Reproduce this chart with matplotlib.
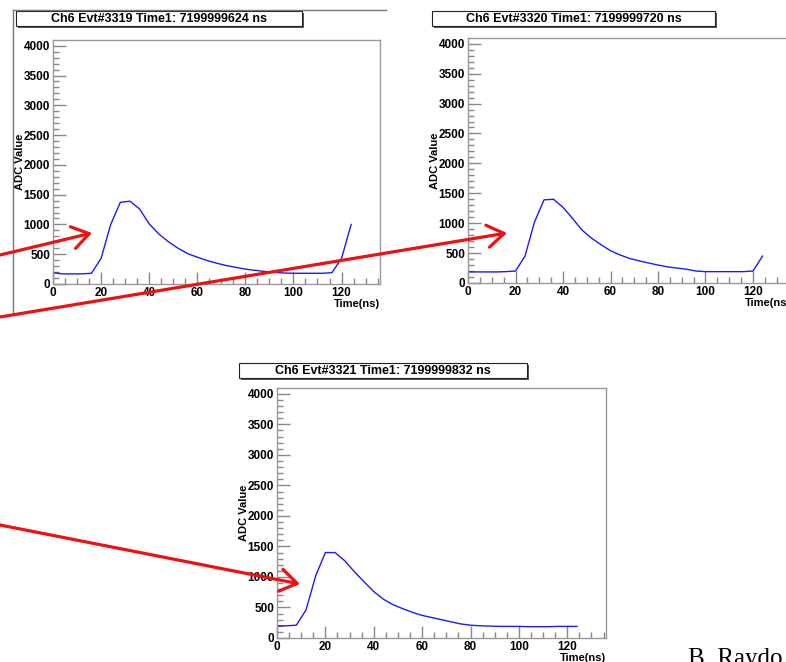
import matplotlib
matplotlib.use("Agg")
import matplotlib.pyplot as plt
from matplotlib.patches import Rectangle, FancyArrowPatch
from matplotlib.ticker import MultipleLocator

# sample times (ns) shared by all three events
times = [0, 4, 8, 12, 16, 20, 24, 28, 32, 36, 40, 44, 48, 52, 56, 60,
         64, 68, 72, 76, 80, 84, 88, 92, 96, 100, 104, 108, 112, 116, 120, 124]

# ADC samples
adc_3319 = [190, 170, 170, 170, 180, 430, 1000, 1370, 1390, 1260, 1010, 840,
            710, 600, 510, 450, 395, 350, 310, 280, 250, 230, 210, 195, 185,
            180, 180, 180, 180, 190, 430, 1000]
adc_3320 = [185, 185, 185, 185, 190, 200, 450, 1020, 1390, 1400, 1265, 1080,
            885, 750, 640, 540, 470, 410, 370, 335, 300, 270, 250, 230, 200,
            190, 190, 190, 190, 190, 200, 450]
adc_3321 = [200, 200, 210, 460, 1020, 1400, 1400, 1265, 1085, 920, 760, 635,
            545, 480, 420, 370, 335, 300, 265, 230, 210, 200, 195, 190, 190,
            190, 185, 185, 185, 190, 190, 190]

titles = ["Ch6 Evt#3319 Time1: 7199999624 ns",
          "Ch6 Evt#3320 Time1: 7199999720 ns",
          "Ch6 Evt#3321 Time1: 7199999832 ns"]

# red arrows on the slide (pixel coords: start -> tip)
arrow_starts = [(0, 255), (0, 317), (0, 525)]
arrow_tips = [(92, 233), (507, 233), (300, 584)]

W, H = 786, 662
FONT = "Liberation Sans"

fig = plt.figure(figsize=(W / 100, H / 100), dpi=100)
fig.patch.set_facecolor("white")


def px_rect(left, top, right, bottom):
    return [left / W, 1 - bottom / H, (right - left) / W, (bottom - top) / H]


def root_panel(rect, y, title_box, title):
    ax = fig.add_axes(rect)
    ax.plot(times, y, color="#1a1aff", lw=1.0)
    ax.set_xlim(0, 136)
    ax.set_ylim(0, 4096)
    ax.xaxis.set_major_locator(MultipleLocator(20))
    ax.xaxis.set_minor_locator(MultipleLocator(5))
    ax.yaxis.set_major_locator(MultipleLocator(500))
    ax.yaxis.set_minor_locator(MultipleLocator(100))
    ax.tick_params(which="both", direction="in", color="#888888", width=1,
                   top=False, right=False)
    ax.tick_params(which="major", length=9, labelsize=8.5, pad=2)
    ax.tick_params(which="minor", length=4)
    for lab in ax.get_xticklabels() + ax.get_yticklabels():
        lab.set_fontfamily(FONT)
        lab.set_fontweight("bold")
    for s in ax.spines.values():
        s.set_color("#999999")
        s.set_linewidth(1)
    px_w = rect[2] * W
    px_h = rect[3] * H
    ax.set_ylabel("ADC Value", fontsize=8, fontweight="bold", family=FONT)
    ax.yaxis.set_label_coords(-28 / px_w, 0.5)
    ax.set_xlabel("Time(ns)", fontsize=8, fontweight="bold", family=FONT)
    ax.xaxis.set_label_coords(1.0, -15 / px_h)
    ax.xaxis.label.set_horizontalalignment("right")
    ax.xaxis.label.set_verticalalignment("top")

    # title pave with shadow
    l, t, r, b = title_box
    ov.add_patch(Rectangle((l + 2, t + 2), r - l, b - t, facecolor="#555555",
                           edgecolor="none", zorder=1))
    ov.add_patch(Rectangle((l, t), r - l, b - t, facecolor="white",
                           edgecolor="#222222", lw=0.8, zorder=2))
    ov.text((l + r) / 2, (t + b) / 2 + 0.5, title, ha="center", va="center",
            fontsize=9, fontweight="bold", family=FONT, zorder=3)
    return ax


# overlay in pixel coordinates for slide decorations
ov = fig.add_axes([0, 0, 1, 1], zorder=5)
ov.set_xlim(0, W)
ov.set_ylim(H, 0)
ov.axis("off")
ov.patch.set_alpha(0)

root_panel(px_rect(53, 40, 380, 284), adc_3319, (16, 11, 302, 26), titles[0])
root_panel(px_rect(468, 38, 791, 283), adc_3320, (432, 11, 715, 26), titles[1])
root_panel(px_rect(277, 388, 606, 638), adc_3321, (239, 363, 527, 378), titles[2])

# canvas frame of the first pad
ov.plot([13, 13], [10, 312], color="#777777", lw=1)
ov.plot([13, 386], [10, 10], color="#777777", lw=1)

for (x0, y0), (x1, y1) in zip(arrow_starts, arrow_tips):
    ov.add_patch(FancyArrowPatch((x0, y0), (x1, y1),
                                 arrowstyle="->,head_length=1.2,head_width=0.8",
                                 mutation_scale=10, color="#ee1111", lw=2.3,
                                 shrinkA=0, shrinkB=0, zorder=6))

ov.text(688, 648, "B. Raydo", ha="left", va="top", fontsize=18,
        family="Liberation Serif", color="black")

fig.savefig("out.png", dpi=100)
